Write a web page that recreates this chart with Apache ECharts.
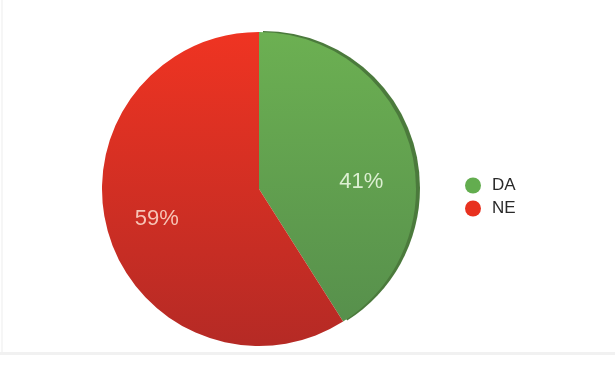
<!DOCTYPE html>
<html>
<head>
<meta charset="utf-8">
<script src="https://cdn.jsdelivr.net/npm/echarts@6/dist/echarts.min.js"></script>
<style>
html,body{margin:0;padding:0;background:#fff;}
#chart{width:615px;height:376px;}
</style>
</head>
<body>
<div id="chart"></div>
<script>
var categories = ['DA', 'NE'];
var values = [41, 59];
var labelOffsets = [[24, 16], [-24, 7]];

var faceColors = [
  new echarts.graphic.LinearGradient(0, 0, 0, 1, [
    {offset: 0, color: '#6cb052'}, {offset: 1, color: '#57904c'}
  ]),
  new echarts.graphic.LinearGradient(0, 0, 0, 1, [
    {offset: 0, color: '#ef3422'}, {offset: 1, color: '#b52a25'}
  ])
];
var shadowColors = ['#4b7a3c', 'rgba(0,0,0,0)'];
var labelColors = ['#dcefd2', '#f7c4b6'];
var legendColors = ['#63ad4f', '#e8311f'];

var chart = echarts.init(document.getElementById('chart'), null, {renderer: 'canvas'});
chart.setOption({
  animation: false,
  backgroundColor: '#ffffff',
  graphic: [
    {type: 'rect', shape: {x: 0, y: 352, width: 615, height: 3}, style: {fill: '#f1f1f1'}, silent: true},
    {type: 'rect', shape: {x: 1, y: 0, width: 2, height: 352}, style: {fill: '#f6f6f6'}, silent: true}
  ],
  legend: {
    orient: 'vertical',
    left: 460,
    top: 172,
    icon: 'circle',
    itemWidth: 16,
    itemHeight: 16,
    itemGap: 6,
    textStyle: {fontFamily: 'Liberation Sans, Arial, sans-serif', fontSize: 17, color: '#2a2a2a', padding: [0, 0, 0, 6]},
    data: categories.map(function (c, i) {
      return {name: c, itemStyle: {color: legendColors[i]}};
    })
  },
  series: [{
    type: 'pie',
    center: [259, 189],
    radius: ['0%', 157],
    startAngle: 90,
    clockwise: true,
    avoidLabelOverlap: false,
    labelLine: {show: false},
    label: {
      show: true,
      position: 'inside',
      formatter: '{d}%',
      fontFamily: 'Liberation Sans, Arial, sans-serif',
      fontSize: 22
    },
    labelLayout: function (p) {
      var o = labelOffsets[p.dataIndex];
      return {dx: o[0], dy: o[1]};
    },
    data: categories.map(function (c, i) {
      return {
        name: c,
        value: values[i],
        itemStyle: {
          color: faceColors[i],
          borderWidth: 0,
          shadowColor: shadowColors[i],
          shadowBlur: 0,
          shadowOffsetX: 4,
          shadowOffsetY: -1
        },
        label: {color: labelColors[i]}
      };
    })
  }]
});
</script>
</body>
</html>
